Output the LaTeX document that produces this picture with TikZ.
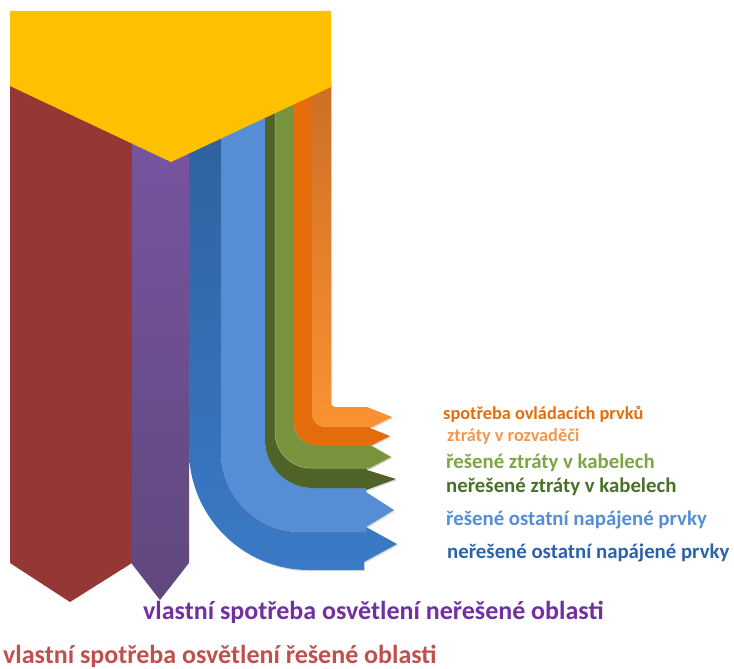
\documentclass[tikz,border=0pt]{standalone}
\usepackage{fontspec}
\setmainfont{Carlito}
\usetikzlibrary{shadows}
\definecolor{cyellow}{RGB}{255,192,0}
\definecolor{cred}{RGB}{149,55,53}
\definecolor{cpurpleT}{RGB}{122,86,164}
\definecolor{cpurpleB}{RGB}{96,72,125}
\definecolor{cdblueT}{RGB}{46,95,155}
\definecolor{cdblueB}{RGB}{58,122,198}
\definecolor{clblue}{RGB}{85,142,213}
\definecolor{cdgreen}{RGB}{79,98,40}
\definecolor{cgreen}{RGB}{119,147,60}
\definecolor{corange}{RGB}{228,108,10}
\definecolor{clorangeT}{RGB}{204,110,36}
\definecolor{clorangeB}{RGB}{250,146,50}
\definecolor{tOrange}{RGB}{228,108,10}
\definecolor{tLOrange}{RGB}{245,150,75}
\definecolor{tGreen}{RGB}{125,165,70}
\definecolor{tDGreen}{RGB}{72,112,40}
\definecolor{tLBlue}{RGB}{85,142,213}
\definecolor{tDBlue}{RGB}{44,98,170}
\definecolor{tPurple}{RGB}{112,48,160}
\definecolor{tRed}{RGB}{192,80,77}
\tikzset{
  band/.style={drop shadow={shadow xshift=1.2pt,shadow yshift=-1.2pt,opacity=0.28}},
  smalllbl/.style={anchor=west,inner sep=0pt,font=\bfseries\fontsize{18.3}{20}\selectfont},
  lbl/.style={anchor=west,inner sep=0pt,font=\bfseries\fontsize{20.8}{22}\selectfont},
  biglbl/.style={anchor=west,inner sep=0pt,font=\bfseries\fontsize{26}{28}\selectfont},
}
\begin{document}
\begin{tikzpicture}[x=1pt,y=-1pt]
\useasboundingbox (0,0) rectangle (734,669);
% red column
\fill[cred] (10,80) -- (10,563) -- (70,602) -- (132,563) -- (132,80) -- cycle;
% purple column
\path[top color=cpurpleT,bottom color=cpurpleB] (132,80) -- (132,564) -- (160,600) -- (189,563) -- (189,80) -- cycle;
% dark blue band
\path[band,top color=cdblueT,bottom color=cdblueB] (189,80) -- (189,450) .. controls (189,516.3) and (242.7,570) .. (309,570) -- (364,570) -- (364,562) -- (397,544) -- (366,527) -- (366,532) -- (301,532) .. controls (256.8,532) and (221,496.2) .. (221,452) -- (221,80) -- cycle;
% light blue band
\path[band,fill=clblue] (221,80) -- (221,452) .. controls (221,496.2) and (256.8,532) .. (301,532) -- (366,532) -- (366,527) -- (394,510) -- (366,492) -- (366,488) -- (313,488) .. controls (286.5,488) and (265,466.5) .. (265,440) -- (265,80) -- cycle;
% dark green band
\path[band,fill=cdgreen] (265,80) -- (265,440) .. controls (265,466.5) and (286.5,488) .. (313,488) -- (366,488) -- (366,490) -- (396,479) -- (367,470) -- (367,468) -- (311,468) .. controls (291.1,468) and (275,451.9) .. (275,432) -- (275,80) -- cycle;
% green band
\path[band,fill=cgreen,draw=cgreen!70!white,line width=0.5pt] (275,80) -- (275,432) .. controls (275,451.9) and (291.1,468) .. (311,468) -- (368,468) -- (368,469) -- (391,457) -- (370,445) -- (316,445) .. controls (303.85,445) and (294,435.15) .. (294,423) -- (294,80) -- cycle;
% orange band
\path[band,fill=corange] (294,80) -- (294,423) .. controls (294,435.15) and (303.85,445) .. (316,445) -- (372,445) -- (390,436) -- (370,428) -- (370,427) -- (325,427) .. controls (317.8,427) and (312,421.2) .. (312,414) -- (312,80) -- cycle;
% light orange band
\path[band,top color=clorangeT,bottom color=clorangeB] (312,80) -- (312,414) .. controls (312,421.2) and (317.8,427) .. (325,427) -- (372,427) -- (392,417) -- (367,407) -- (335,407) .. controls (332.8,407) and (331,405.2) .. (331,403) -- (331,80) -- cycle;
% yellow top
\fill[cyellow] (10,11) -- (331,11) -- (331,87) -- (171,162) -- (10,86) -- cycle;
% labels
\node[smalllbl,text=tOrange] (l1) at (443,414) {spotřeba ovládacích prvků};
\node[smalllbl,text=tLOrange] (l2) at (447,437) {ztráty v rozvaděči};
\node[lbl,text=tGreen] (l3) at (446,463) {řešené ztráty v kabelech};
\node[lbl,text=tDGreen] (l4) at (446,487) {neřešené ztráty v kabelech};
\node[lbl,text=tLBlue] (l5) at (446,520) {řešené ostatní napájené prvky};
\node[lbl,text=tDBlue] (l6) at (447,553) {neřešené ostatní napájené prvky};
\node[biglbl,text=tPurple] (l7) at (143,612) {vlastní spotřeba osvětlení neřešené oblasti};
\node[biglbl,text=tRed] (l8) at (3,656) {vlastní spotřeba osvětlení řešené oblasti};
\end{tikzpicture}
\end{document}
